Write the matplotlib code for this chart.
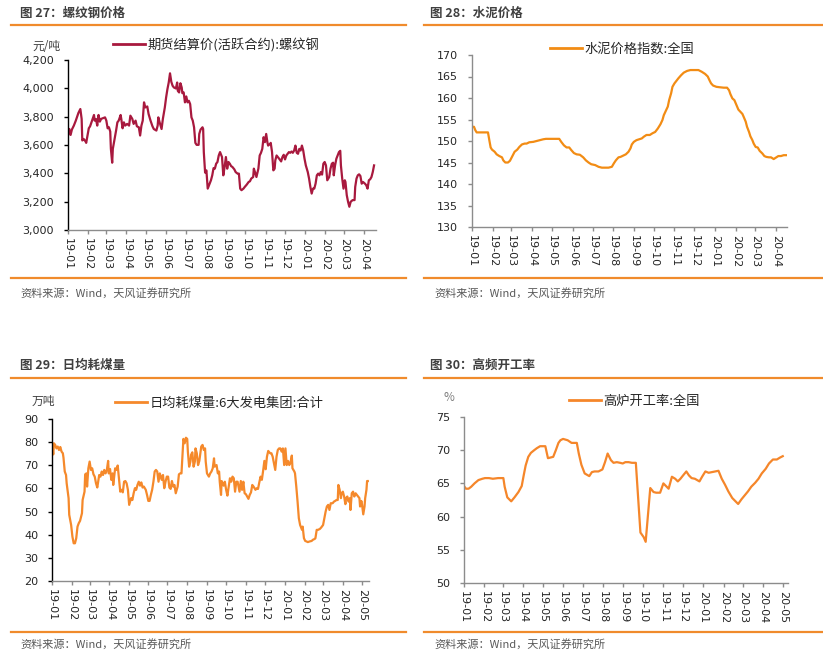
import matplotlib
matplotlib.use('Agg')
import matplotlib.pyplot as plt
import matplotlib.dates as mdates
from matplotlib.lines import Line2D
from matplotlib.ticker import FuncFormatter
import pandas as pd

# ---------------- data (day offsets from 2019-01-01) ----------------
rebar_day = [0,2,4,6,9,12,16,19,21,22,
             24,27,28,30,32,34,37,40,41,43,
             45,47,49,51,53,57,59,61,63,65,
             66,68,69,72,74,76,78,81,82,84,
             86,88,91,94,96,99,101,104,106,109,
             111,113,115,117,119,122,124,127,130,132,
             136,138,139,141,144,146,149,151,153,155,
             157,159,161,163,166,168,169,171,173,175,
             176,178,180,182,184,186,188,190,192,194,
             196,198,201,202,204,207,208,209,211,213,
             215,217,220,222,224,226,228,230,232,234,
             237,239,241,243,245,247,249,251,253,256,
             258,261,263,265,267,270,272,275,278,280,
             282,285,286,288,290,293,295,297,299,301,
             303,305,307,308,311,312,314,316,318,319,
             321,323,325,328,330,332,334,336,338,340,
             342,344,346,348,350,352,354,356,358,360,
             362,364,366,369,371,373,375,377,379,381,
             383,385,387,389,391,393,395,397,399,402,
             404,406,408,409,411,413,415,417,419,420,
             422,424,426,427,429,431,433,435,438,441,
             442,444,446,448,450,452,454,457,459,461,
             463,465,467,469,471]
rebar_val = [3667,3713,3671,3709,3737,3772,3826,3854,3784,3632,
             3643,3625,3615,3667,3718,3732,3772,3812,3772,3784,
             3737,3812,3765,3784,3788,3795,3772,3718,3725,3695,
             3573,3475,3573,3648,3702,3760,3772,3812,3784,3718,
             3760,3737,3749,3737,3807,3784,3749,3772,3732,3725,
             3667,3737,3772,3901,3865,3872,3819,3772,3732,3713,
             3702,3737,3795,3760,3713,3784,3865,3936,3994,4041,
             4106,4046,4018,4006,3999,4041,3982,3971,4036,4006,
             3966,3971,3901,3943,3901,3912,3889,3795,3772,3725,
             3615,3601,3601,3678,3709,3725,3713,3550,3405,3421,
             3292,3316,3351,3386,3437,3433,3468,3480,3526,3550,
             3515,3386,3445,3515,3433,3480,3468,3451,3445,3428,
             3409,3398,3398,3292,3281,3292,3304,3320,3339,3344,
             3363,3374,3433,3405,3374,3433,3526,3545,3573,3655,
             3620,3678,3615,3596,3608,3615,3550,3421,3433,3491,
             3526,3515,3503,3484,3515,3531,3498,3526,3538,3550,
             3545,3554,3545,3561,3596,3545,3538,3573,3561,3596,
             3561,3503,3456,3409,3363,3304,3257,3292,3292,3327,
             3386,3398,3386,3409,3391,3468,3480,3456,3351,3374,
             3433,3468,3475,3386,3456,3503,3526,3550,3559,3456,
             3363,3292,3351,3339,3246,3199,3164,3199,3211,3211,
             3304,3363,3386,3393,3381,3327,3339,3327,3316,3292,
             3351,3358,3374,3409,3456]

cement_day = [0,3,5,7,16,24,26,28,30,34,
              37,41,45,47,50,54,57,60,64,68,
              71,75,79,82,86,92,97,102,107,111,
              117,124,131,134,138,142,146,149,153,157,
              162,167,171,175,179,185,190,195,200,205,
              210,213,216,220,223,227,231,235,238,240,
              243,247,251,255,258,262,267,271,275,279,
              283,286,288,291,294,296,299,301,304,307,
              310,314,318,323,328,334,340,345,350,354,
              357,359,362,367,372,378,383,386,388,391,
              394,397,400,403,406,408,411,413,416,418,
              421,423,426,429,432,436,439,442,446,449,
              453,457,460,464,468,472]
cement_val = [153.3,153.3,152.5,152.0,152.0,152.0,150.2,148.5,148.0,147.5,
              146.9,146.5,146.2,145.5,145.0,145.0,145.4,146.3,147.5,148.0,
              148.6,149.2,149.4,149.4,149.7,149.8,150.0,150.2,150.4,150.5,
              150.5,150.5,150.5,149.8,149.0,148.5,148.5,147.9,147.2,146.9,
              146.8,146.2,145.5,145.0,144.6,144.4,144.0,143.8,143.8,143.8,
              144.0,144.8,145.5,146.2,146.3,146.6,146.9,147.5,148.3,149.2,
              149.8,150.2,150.4,150.6,151.0,151.4,151.4,151.8,152.1,152.9,
              153.9,154.9,156.0,157.0,158.0,159.5,161.1,162.6,163.4,164.0,
              164.6,165.3,165.9,166.3,166.5,166.5,166.5,166.1,165.6,165.0,
              164.0,163.4,162.9,162.6,162.5,162.4,162.4,161.8,160.9,159.9,
              159.5,158.4,157.3,156.8,156.3,155.6,154.5,153.3,152.1,151.1,
              150.2,149.4,148.6,148.5,147.7,147.1,146.5,146.3,146.2,146.2,
              145.8,146.2,146.5,146.5,146.7,146.7]

coal_day = [0,2,3,5,7,9,11,13,15,17,
            18,20,22,23,26,27,30,32,34,36,
            38,40,42,44,47,48,51,52,54,55,
            57,59,61,63,65,67,69,71,74,76,
            78,80,82,84,86,88,89,91,93,95,
            96,99,101,103,105,107,109,111,113,115,
            117,119,121,124,126,128,130,132,134,136,
            138,140,142,144,147,149,151,153,155,157,
            159,161,163,165,167,169,172,174,176,178,
            180,182,184,186,188,190,192,194,197,199,
            201,203,205,206,208,210,212,213,215,217,
            218,220,222,224,225,227,229,231,234,236,
            238,240,241,243,246,248,250,252,254,255,
            258,260,262,263,265,266,269,271,273,275,
            277,279,281,283,285,287,289,291,294,296,
            298,300,302,304,306,308,310,312,314,316,
            319,321,323,325,327,329,331,333,335,337,
            339,342,344,346,348,350,352,354,356,358,
            360,362,364,366,368,370,372,374,376,377,
            380,381,383,385,387,389,392,393,395,397,
            399,401,404,407,409,412,413,415,417,420,
            422,425,427,429,431,433,435,437,440,442,
            444,446,448,449,451,453,454,456,458,460,
            461,463,465,467,468,470,472,474,476,478,
            480,482,483,485,486,488,490,491,493,494,
            495]
coal_val = [79.5,74.7,79.5,78.8,77.3,78.1,76.6,77.9,75.9,75.2,
            73.3,67.3,65.8,62.2,55.8,48.6,44.2,39.2,36.3,36.3,
            38.5,43.5,45.0,46.0,49.3,55.0,58.6,66.1,66.5,60.8,
            68.7,71.6,68.0,68.7,66.1,65.1,62.2,60.4,65.8,65.1,
            67.3,65.8,68.0,66.5,68.0,71.9,66.5,68.4,63.7,66.5,
            61.5,68.7,68.0,69.9,64.4,58.6,59.4,58.3,62.9,63.2,
            62.2,59.4,52.9,55.8,55.0,57.9,60.1,59.4,61.5,62.9,
            61.2,62.6,60.4,60.8,59.4,57.2,54.6,54.6,57.2,59.4,
            62.9,67.3,68.0,67.3,62.9,66.5,63.7,65.8,60.1,62.9,
            65.1,65.1,60.4,59.8,63.2,60.8,61.5,57.9,60.8,66.1,
            66.5,66.5,75.9,81.4,79.5,81.9,81.4,75.9,69.4,71.6,
            74.5,75.6,69.4,71.6,77.3,75.2,70.1,71.9,78.1,78.8,
            76.6,77.3,71.6,66.5,65.1,66.5,67.3,68.7,73.0,69.4,
            70.1,66.5,67.3,62.9,57.2,63.2,61.2,62.9,59.4,56.9,
            60.8,64.4,62.9,65.1,64.4,58.6,62.9,62.9,58.6,63.2,
            59.4,62.9,57.9,57.5,56.5,55.5,57.2,58.3,61.5,60.8,
            59.4,60.1,59.8,62.6,65.1,63.7,67.6,71.9,68.3,73.7,
            76.2,75.2,75.2,73.7,70.9,68.0,73.7,76.6,77.3,77.3,
            75.9,77.3,70.1,77.3,70.1,71.9,70.1,71.3,74.2,68.7,
            67.3,66.5,60.8,54.3,47.1,44.2,42.1,43.5,38.5,37.3,
            37.1,36.8,37.1,37.3,37.8,38.2,38.5,42.1,42.1,42.5,
            43.1,44.2,47.1,50.0,52.2,52.9,50.7,53.6,53.6,54.3,
            54.6,55.0,55.0,61.5,59.4,55.8,57.9,58.6,56.5,53.2,
            55.8,56.5,54.3,55.8,50.7,57.9,58.6,56.5,57.9,57.2,
            56.5,55.8,52.2,54.6,53.2,48.8,52.2,55.8,59.4,63.2,
            63.2]

bf_day = [0,3,7,11,16,22,28,32,38,44,
          52,60,62,66,72,77,83,88,91,94,
          98,102,107,111,116,124,128,136,140,144,
          147,151,158,164,172,175,179,184,191,195,
          199,205,211,215,219,224,228,233,238,242,
          246,251,256,262,269,274,277,284,289,293,
          299,304,308,312,317,322,326,330,334,339,
          343,347,352,359,363,368,373,378,383,388,
          393,398,403,409,414,418,423,428,433,438,
          444,449,454,460,465,471,477,482,486]
bf_val = [64.6,64.2,64.2,64.5,65.0,65.5,65.7,65.8,65.8,65.7,
          65.8,65.8,64.5,62.9,62.3,62.9,63.7,64.6,66.2,67.7,
          69.0,69.6,70.0,70.3,70.6,70.6,68.8,69.0,70.0,71.1,
          71.5,71.7,71.5,71.1,71.1,69.5,67.8,66.5,66.1,66.7,
          66.8,66.8,67.1,68.2,69.5,68.5,68.1,68.2,68.1,68.0,
          68.2,68.2,68.1,68.1,57.6,56.9,56.2,64.3,63.7,63.6,
          63.6,65.0,64.6,64.2,66.0,65.7,65.3,65.7,66.2,66.8,
          66.2,65.8,65.7,65.3,66.0,66.8,66.6,66.7,66.8,66.9,
          65.7,64.8,63.8,62.8,62.3,61.9,62.6,63.2,63.8,64.5,
          65.1,65.7,66.5,67.2,68.0,68.6,68.6,68.9,69.1]

titles = ['图 27：螺纹钢价格', '图 28：水泥价格', '图 29：日均耗煤量', '图 30：高频开工率']
legend_labels = ['期货结算价(活跃合约):螺纹钢', '水泥价格指数:全国',
                 '日均耗煤量:6大发电集团:合计', '高炉开工率:全国']
units = ['元/吨', '', '万吨', '%']
source = '资料来源：Wind，天风证券研究所'

# ---------------- figure ----------------
W, H = 823, 667
CJK = ['Noto Sans CJK SC', 'DejaVu Sans']
plt.rcParams['font.family'] = CJK
fig = plt.figure(figsize=(W / 100, H / 100), dpi=100)

ORANGE_RULE = '#F08B2C'
BASE = pd.Timestamp('2019-01-01')


def fx(px):
    return px / W


def fy(py):
    return 1 - py / H


def to_dates(days):
    return BASE + pd.to_timedelta(days, unit='D')


def panel(box, days, vals, color, ylim, yticks, xend_day, left_col, thousands=False):
    l, t, r, b = box
    ax = fig.add_axes([fx(l), fy(b), (r - l) / W, (b - t) / H])
    ax.plot(to_dates(days), vals, color=color, lw=1.6, solid_joinstyle='round')
    ax.set_xlim(BASE, BASE + pd.Timedelta(days=xend_day))
    ax.set_ylim(*ylim)
    ax.set_yticks(yticks)
    if thousands:
        ax.yaxis.set_major_formatter(FuncFormatter(lambda v, p: f'{v:,.0f}'))
    ax.xaxis.set_major_locator(mdates.MonthLocator())
    ax.xaxis.set_major_formatter(mdates.DateFormatter('%y-%m'))
    for s in ('top', 'right'):
        ax.spines[s].set_visible(False)
    ax.spines['left'].set_color(left_col)
    ax.spines['bottom'].set_color('#8c8c8c')
    ax.spines['left'].set_linewidth(1.0)
    ax.spines['bottom'].set_linewidth(1.0)
    ax.tick_params(axis='y', direction='out', length=3, width=1, color=left_col,
                   pad=7, labelsize=8, labelcolor='#262626')
    ax.tick_params(axis='x', direction='out', length=3, width=1, color='#8c8c8c',
                   pad=3, labelsize=8, labelcolor='#262626', labelrotation=270)
    for lab in ax.get_xticklabels() + ax.get_yticklabels():
        lab.set_fontfamily('DejaVu Sans')
    return ax


def legend(ax, color, label, x, y):
    ax.legend(handles=[Line2D([], [], color=color, lw=2)], labels=[label],
              loc='center left', bbox_to_anchor=(fx(x), fy(y)),
              bbox_transform=fig.transFigure, frameon=False, fontsize=9.5,
              handlelength=2.4, handletextpad=0.2, borderpad=0, borderaxespad=0,
              labelcolor='#262626')


# panel 1: rebar
ax1 = panel((68, 60, 376, 230), rebar_day, rebar_val, '#A8193E',
            (3000, 4200), [3000, 3200, 3400, 3600, 3800, 4000, 4200], 474, '#000000',
            thousands=True)
legend(ax1, '#A8193E', legend_labels[0], 113, 45)

# panel 2: cement
ax2 = panel((472, 55, 787, 227), cement_day, cement_val, '#F28C14',
            (130, 170), [130, 135, 140, 145, 150, 155, 160, 165, 170], 473, '#8c8c8c')
legend(ax2, '#F28C14', legend_labels[1], 550, 49)

# panel 3: coal
ax3 = panel((52, 419, 369, 581), coal_day, coal_val, '#F5892B',
            (20, 90), [20, 30, 40, 50, 60, 70, 80, 90], 497, '#000000')
legend(ax3, '#F5892B', legend_labels[2], 115, 403)

# panel 4: blast furnace
ax4 = panel((464, 417, 788, 583), bf_day, bf_val, '#F5862A',
            (50, 75), [50, 55, 60, 65, 70, 75], 494, '#8c8c8c')
legend(ax4, '#F5862A', legend_labels[3], 569, 401)

# titles, rules, sources, units
title_pos = [(20, 13), (430, 13), (20, 365), (430, 365)]
for (x, y), t in zip(title_pos, titles):
    fig.text(fx(x), fy(y), t, fontsize=9, fontweight='bold', color='#404040',
             ha='left', va='center')

rules = [(11, 406, 25), (424, 822, 25), (11, 406, 278), (424, 822, 278),
         (11, 406, 378), (424, 822, 378), (11, 406, 632), (424, 822, 632)]
for x0, x1, y in rules:
    fig.add_artist(Line2D([fx(x0), fx(x1)], [fy(y), fy(y)], transform=fig.transFigure,
                          color=ORANGE_RULE, lw=1.6))

for x, y in [(20, 293), (434, 293), (20, 644), (434, 644)]:
    fig.text(fx(x), fy(y), source, fontsize=8, color='#595959', ha='left', va='center')

fig.text(fx(46), fy(46), units[0], fontsize=8.5, color='#404040', ha='center', va='center')
fig.text(fx(43), fy(401), units[2], fontsize=8.5, color='#404040', ha='center', va='center')
fig.text(fx(449), fy(398), units[3], fontsize=8.5, color='#7f7f7f', ha='center', va='center')

fig.savefig('out.png', dpi=100)
